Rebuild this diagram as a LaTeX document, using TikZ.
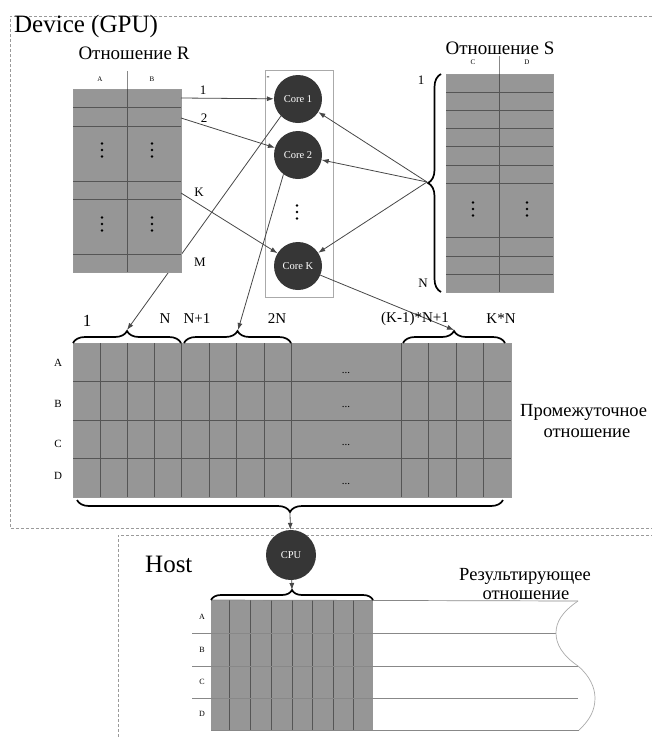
\documentclass[tikz,border=0pt]{standalone}
\usepackage{fontspec}
\setmainfont{Liberation Serif}
\usetikzlibrary{decorations.pathreplacing,arrows.meta}
\definecolor{gfill}{HTML}{969696}
\definecolor{gline}{HTML}{555555}
\definecolor{arr}{HTML}{474747}
\definecolor{corec}{HTML}{363636}
\definecolor{dashc}{HTML}{9A9A9A}
\definecolor{boxc}{HTML}{AAAAAA}
\newcommand\dotcol[2]{\foreach \dy in {-6.5,0,6.5} \fill (#1,#2+\dy) circle (1.3pt);}
\newcommand\fs[1]{\fontsize{#1}{#1}\selectfont}
\begin{document}
\begin{tikzpicture}[x=1pt,y=-1pt,
  core/.style={circle,fill=corec,minimum size=48pt,inner sep=0pt,text=white,font=\fs{10.5}},
  conn/.style={draw=arr,line width=0.8pt,-{Latex[length=7pt,width=5pt]}},
  bracestyle/.style={draw=black,line width=1.7pt,decorate,decoration={brace,amplitude=#1}},
  bracestyle/.default=12pt,
  dashbox/.style={draw=dashc,line width=0.7pt,dash pattern=on 3pt off 2pt},
  grid/.style={draw=gline,line width=0.8pt},
  lbl/.style={inner sep=0pt,font=\fs{#1}},
  lbl/.default=14,
]
\useasboundingbox (0,0) rectangle (652,737);

% dashed regions
\draw[dashbox] (652,16) -- (10,16) -- (10,528) -- (652,528);
\draw[dashbox] (118,737) -- (118,535) -- (652,535);

\node[lbl=25,anchor=base west] (dev) at (14,32) {Device (GPU)};
\node[lbl=25,anchor=base west] (host) at (145,572) {Host};

% core container and cores
\draw[boxc,line width=0.8pt] (265,70) rectangle (333,297);
\node[lbl=9] (minus) at (268,78) {-};
\node[core] (c1) at (298,99) {Core 1};
\node[core] (c2) at (298,155) {Core 2};
\node[core] (ck) at (298,266) {Core K};
\dotcol{297}{212}

% brace tip coordinates
\coordinate (b1) at (127,330);
\coordinate (b2) at (238,330);
\coordinate (bk) at (454,330);
\coordinate (bb) at (290,513);
\coordinate (hb) at (292,590);
\coordinate (sb) at (427,182);
\coordinate (r1) at (181,98);
\coordinate (r2) at (181,118);
\coordinate (rK) at (181,193);

% line from core 1 passing behind R
\draw[conn] (c1.225) -- (b1);

% Relation R
\node[lbl=19,anchor=base] (relR) at (134,59) {Отношение R};
\draw[gline!70,line width=0.6pt] (127,71) -- (127,89);
\fill[gfill] (73,89) rectangle (181,272);
\draw[gline!60,line width=0.6pt] (73,89) rectangle (181,272);
\foreach \y in {107,126,181,199,254} \draw[grid] (73,\y) -- (181,\y);
\draw[grid] (127,89) -- (127,272);
\node[lbl=7] (hA) at (100,79) {A};
\node[lbl=7] (hB) at (152,79) {B};
\dotcol{102}{150} \dotcol{152}{150}
\dotcol{102}{224} \dotcol{152}{224}
\node[lbl=13] (l1) at (203,90) {1};
\node[lbl=13] (l2) at (204,118) {2};
\node[lbl=13] (lK) at (199,192) {K};
\node[lbl=13] (lM) at (200,262) {M};

% Relation S
\node[lbl=19,anchor=base] (relS) at (500,54) {Отношение S};
\draw[gline!70,line width=0.6pt] (499,56) -- (499,74);
\fill[gfill] (446,74) rectangle (553,292);
\draw[gline!60,line width=0.6pt] (446,74) rectangle (553,292);
\foreach \y in {92,110,128,146,165,183,237,256,274} \draw[grid] (446,\y) -- (553,\y);
\draw[grid] (499,74) -- (499,292);
\node[lbl=7] (hC) at (473,62) {C};
\node[lbl=7] (hD) at (527,62) {D};
\dotcol{473}{209} \dotcol{527}{209}
\draw[bracestyle=13pt] (441,292) -- (441,74);
\node[lbl=13] (s1) at (421,80) {1};
\node[lbl=13] (sN) at (423,283) {N};

% arrows to cores
\draw[conn] (r1) -- (c1);
\draw[conn] (r2) -- (c2);
\draw[conn] (rK) -- (ck);
\draw[conn] (sb) -- (c1);
\draw[conn] (sb) -- (c2);
\draw[conn] (sb) -- (ck);
\draw[conn] (c2.233) -- (b2);
\draw[conn] (ck) -- (bk);

% Intermediate relation
\fill[gfill] (73,343) rectangle (511,497);
\draw[gline!60,line width=0.6pt] (73,343) rectangle (511,497);
\foreach \y in {381,420,458} \draw[grid] (73,\y) -- (511,\y);
\foreach \x in {100,127,154,181,209,236,264,291,401,428,456,483} \draw[grid] (\x,343) -- (\x,497);
\foreach \y/\t in {363/A,404/B,444/C,476/D} \node[lbl=11] at (58,\y) {\t};
\foreach \y in {373,407,445,484} \node[lbl=11,anchor=base] at (346,\y) {...};
\draw[bracestyle=12pt] (73,343) -- (181,343);
\draw[bracestyle=12pt] (184,343) -- (291,343);
\draw[bracestyle=12pt] (403,343) -- (505,343);
\draw[bracestyle=12pt] (503,500) -- (77,500);
\node[lbl=17] (t1) at (87,321) {1};
\node[lbl=15] (tN) at (165,319) {N};
\node[lbl=15] (tN1) at (197,319) {N+1};
\node[lbl=15] (t2N) at (277,319) {2N};
\node[lbl=15] (tK1) at (415,319) {(K-1)*N+1};
\node[lbl=15] (tKN) at (501,319) {K*N};
\node[lbl=18.5,anchor=base west] (pr1) at (520,416) {Промежуточное};
\node[lbl=18.5,anchor=base] (pr2) at (587,437) {отношение};

% CPU
\node[core,minimum size=50pt] (cpu) at (291,555) {CPU};
\draw[conn] (bb) -- (cpu);
\draw[conn] (cpu) -- (hb);

% Result relation
\fill[gfill] (211,600) rectangle (373,730);
\foreach \x in {229,250,271,292,312,333,353} \draw[grid] (\x,600) -- (\x,730);
\draw[gline!70,line width=0.7pt] (211,600) -- (578,601);
\draw[gline!70,line width=0.7pt] (192,633) -- (556,633);
\draw[gline!70,line width=0.7pt] (192,666) -- (578,666);
\draw[gline!70,line width=0.7pt] (192,698) -- (578,698);
\draw[gline!70,line width=0.7pt] (211,730) -- (579,730);
\draw[gline!50,line width=0.7pt] (578,601) .. controls (562,612) and (556,622) .. (556,633)
  .. controls (556,644) and (562,655) .. (578,666)
  .. controls (590,676) and (595,688) .. (595,698)
  .. controls (595,710) and (590,720) .. (579,730);
\draw[bracestyle=10pt] (211,600) -- (373,600);
\foreach \y/\t in {617/A,650/B,682/C,714/D} \node[lbl=8] at (202,\y) {\t};
\node[lbl=18.5,anchor=base] (res1) at (525,580) {Результирующее};
\node[lbl=18.5,anchor=base] (res2) at (526,599) {отношение};
\end{tikzpicture}
\end{document}
